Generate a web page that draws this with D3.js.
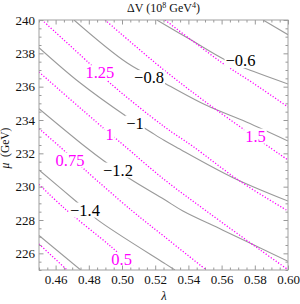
<!DOCTYPE html>
<html><head><meta charset="utf-8">
<script src="https://cdn.jsdelivr.net/npm/d3@7"></script>
<style>
html,body{margin:0;padding:0;background:#fff;}
svg{display:block;font-family:"Liberation Serif","Times New Roman",serif;}
</style></head>
<body><svg id="c" width="300" height="304"></svg>
<script>
// ---- data ----
const lambdaTicks = [0.46,0.48,0.50,0.52,0.54,0.56,0.58,0.60];
const muTicks = [226,228,230,232,234,236,238,240];
const lambdaTickLabels = ["0.46","0.48","0.50","0.52","0.54","0.56","0.58","0.60"];
const muTickLabels = ["226","228","230","232","234","236","238","240"];

// ΔV contours (gray, solid), level -> [λ, μ] points
const dvLevels = [-0.4,-0.6,-0.8,-1.0,-1.2,-1.4,-1.6];
const dvLines = [
  [[0.585,240],[0.60,239.12]],
  [[0.521,240],[0.543,238.72],[0.562,237.62],[0.579,236.92],[0.60,236.16]],
  [[0.4711,240],[0.5032,237.42],[0.5265,236.16],[0.5508,234.88],[0.5749,233.88],[0.60,232.74]],
  [[0.45,238.34],[0.4741,236.28],[0.5032,234.18],[0.5173,233.28],[0.5253,232.78],[0.5325,232.38],[0.5669,230.54],[0.60,229.14]],
  [[0.45,234.68],[0.4781,232.38],[0.4892,231.54],[0.5052,230.44],[0.5253,229.24],[0.5367,228.54],[0.5608,227.39],[0.60,225.52]],
  [[0.45,231.0],[0.4721,229.14],[0.4851,228.02],[0.5253,225.42],[0.5319,225.0]],
  [[0.45,227.07],[0.4751,225.0]]
];
const dvLabels = ["−0.6","−0.8","−1","−1.2","−1.4"];
const dvLabelPos = [[0.5714,237.57],[0.5163,236.55],[0.5078,233.82],[0.4976,231.0],[0.4777,228.6]];

// second quantity contours (magenta, dotted)
const mLevels = [0.25,0.5,0.75,1.0,1.25,1.5,1.75];
const mLines = [
  [[0.45,226.56],[0.4669,225.0]],
  [[0.45,230.14],[0.4651,228.72],[0.4932,226.42],[0.5066,225.24]],
  [[0.45,233.48],[0.4631,232.35],[0.4771,231.06],[0.5062,228.54],[0.5253,227.02],[0.5508,225.0]],
  [[0.45,236.88],[0.4892,233.48],[0.5012,232.47],[0.5253,230.44],[0.5508,228.54],[0.5830,226.22],[0.60,225.02]],
  [[0.4518,240],[0.4801,237.42],[0.4932,236.18],[0.5253,233.61],[0.5428,232.41],[0.5709,230.34],[0.60,228.54]],
  [[0.4898,240],[0.5253,237.0],[0.5578,234.54],[0.60,231.6]],
  [[0.5259,240],[0.5428,238.72],[0.5619,237.32],[0.5789,236.22],[0.60,234.78]]
];
const mLabels = ["0.5","0.75","1","1.25","1.5"];
const mLabelPos = [[0.4998,225.62],[0.4687,231.6],[0.4925,233.13],[0.4867,236.84],[0.5804,233.04]];

// ---- drawing ----
const svg = d3.select("#c");
const L = 39, R = 288, T = 20, B = 270;
const x = d3.scaleLinear().domain([0.45,0.60]).range([L,R]);
const y = d3.scaleLinear().domain([225,240]).range([B,T]);

svg.append("defs").append("clipPath").attr("id","clip")
  .append("rect").attr("x",L).attr("y",T).attr("width",R-L).attr("height",B-T);

const line = d3.line().x(d=>x(d[0])).y(d=>y(d[1])).curve(d3.curveCatmullRom.alpha(0.5));
const g = svg.append("g").attr("clip-path","url(#clip)");

g.selectAll("path.dv").data(dvLines).join("path").attr("class","dv")
  .attr("d",line).attr("fill","none").attr("stroke","#9a9a9a").attr("stroke-width",1.1);
g.selectAll("path.m").data(mLines).join("path").attr("class","m")
  .attr("d",line).attr("fill","none").attr("stroke","#ff00ff").attr("stroke-width",1.3)
  .attr("stroke-dasharray","1.2,1.8");

function labels(texts,pos,color){
  const lg = svg.append("g");
  texts.forEach((t,i)=>{
    const gg = lg.append("g");
    const r = gg.append("rect").attr("fill","#fff");
    const tx = gg.append("text").attr("x",x(pos[i][0])).attr("y",y(pos[i][1]))
      .attr("dy","0.34em").attr("text-anchor","middle").attr("font-size",16.5)
      .attr("fill",color).text(t);
    const bb = tx.node().getBBox();
    r.attr("x",bb.x-1).attr("y",bb.y+2).attr("width",bb.width+2).attr("height",bb.height-4);
  });
}
labels(dvLabels,dvLabelPos,"#000");
labels(mLabels,mLabelPos,"#ff00ff");

// axes with inward ticks
const fs = 13;
function styleAxis(sel){ sel.select(".domain").remove(); sel.selectAll("line").attr("stroke","#999"); sel.selectAll("text").attr("font-size",fs).attr("fill","#111").attr("font-family","Liberation Serif"); }
const minorX = d3.range(0,31).map(i=>0.45+i*0.005).filter(v=>!lambdaTicks.some(t=>Math.abs(t-v)<1e-9));
const minorY = d3.range(0,31).map(i=>225+i*0.5).filter(v=>!muTicks.some(t=>Math.abs(t-v)<1e-9));

svg.append("g").attr("transform",`translate(0,${B})`)
  .call(d3.axisBottom(x).tickValues(lambdaTicks).tickFormat((d,i)=>lambdaTickLabels[i]).tickSizeInner(-4.5).tickSizeOuter(0).tickPadding(4.5)).call(styleAxis);
svg.append("g").attr("transform",`translate(0,${B})`)
  .call(d3.axisBottom(x).tickValues(minorX).tickFormat("").tickSizeInner(-2.5).tickSizeOuter(0)).call(styleAxis);
svg.append("g").attr("transform",`translate(0,${T})`)
  .call(d3.axisTop(x).tickValues(lambdaTicks).tickFormat("").tickSizeInner(-4.5).tickSizeOuter(0)).call(styleAxis);
svg.append("g").attr("transform",`translate(0,${T})`)
  .call(d3.axisTop(x).tickValues(minorX).tickFormat("").tickSizeInner(-2.5).tickSizeOuter(0)).call(styleAxis);
svg.append("g").attr("transform",`translate(${L},0)`)
  .call(d3.axisLeft(y).tickValues(muTicks).tickFormat((d,i)=>muTickLabels[i]).tickSizeInner(-4.5).tickSizeOuter(0).tickPadding(4)).call(styleAxis);
svg.append("g").attr("transform",`translate(${L},0)`)
  .call(d3.axisLeft(y).tickValues(minorY).tickFormat("").tickSizeInner(-2.5).tickSizeOuter(0)).call(styleAxis);
svg.append("g").attr("transform",`translate(${R},0)`)
  .call(d3.axisRight(y).tickValues(muTicks).tickFormat("").tickSizeInner(-4.5).tickSizeOuter(0)).call(styleAxis);
svg.append("g").attr("transform",`translate(${R},0)`)
  .call(d3.axisRight(y).tickValues(minorY).tickFormat("").tickSizeInner(-2.5).tickSizeOuter(0)).call(styleAxis);

svg.append("rect").attr("x",L).attr("y",T).attr("width",R-L).attr("height",B-T)
  .attr("fill","none").attr("stroke","#a0a0a0").attr("stroke-width",1);

// titles
const title = svg.append("text").attr("x",(L+R)/2).attr("y",12).attr("text-anchor","middle")
  .attr("font-size",12).attr("fill","#111");
title.append("tspan").text("ΔV (10");
title.append("tspan").attr("font-size",8).attr("dy",-4).text("8");
title.append("tspan").attr("dy",4).text(" GeV");
title.append("tspan").attr("font-size",8).attr("dy",-4).text("4");
title.append("tspan").attr("dy",4).text(")");

svg.append("text").attr("x",164).attr("y",300).attr("text-anchor","middle")
  .attr("font-size",12.5).attr("font-style","italic").attr("fill","#111").text("λ");
const yl = svg.append("text").attr("transform","translate(9,148) rotate(-90)").attr("text-anchor","middle")
  .attr("font-size",11.5).attr("fill","#111");
yl.append("tspan").attr("font-style","italic").text("μ");
yl.append("tspan").text("\u00a0\u00a0(GeV)");
</script></body></html>
